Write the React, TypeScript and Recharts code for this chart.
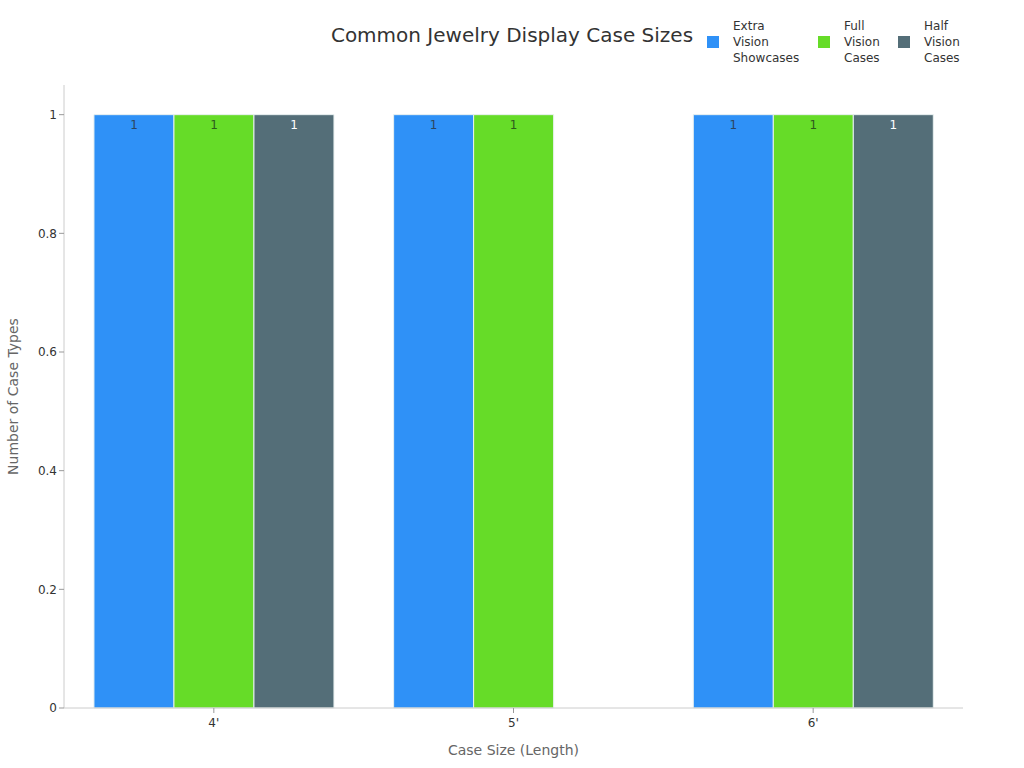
import React from "react";
import { BarChart, Bar, XAxis, YAxis, LabelList } from "recharts";

const categories = ["4'", "5'", "6'"];
const extraVision = [1, 1, 1];
const fullVision = [1, 1, 1];
const halfVision: (number | null)[] = [1, null, 1];
const yTicks = [0, 0.2, 0.4, 0.6, 0.8, 1];

const seriesNames = ["Extra Vision Showcases", "Full Vision Cases", "Half Vision Cases"];
const seriesColors = ["#2f91f7", "#66dc28", "#546e78"];

const data = categories.map((c, i) => ({
  name: c,
  extra: extraVision[i],
  full: fullVision[i],
  half: halfVision[i],
}));

const FONT = "'DejaVu Sans', sans-serif";

const legendWords = [
  ["Extra", "Vision", "Showcases"],
  ["Full", "Vision", "Cases"],
  ["Half", "Vision", "Cases"],
];
const legendLeft = [707, 818, 898];

export default function App() {
  return (
    <div style={{ position: "absolute", left: 0, top: 0, width: 1024, height: 768, background: "#fff", fontFamily: FONT }}>
      <div
        style={{
          position: "absolute",
          left: 0,
          width: 1024,
          top: 22,
          textAlign: "center",
          fontSize: 20,
          color: "#333",
          lineHeight: "26px",
        }}
      >
        Common Jewelry Display Case Sizes
      </div>
      {seriesNames.map((n, i) => (
        <div key={n} style={{ position: "absolute", left: legendLeft[i], top: 18, display: "flex", alignItems: "center" }}>
          <div style={{ width: 12, height: 12, background: seriesColors[i], marginRight: 14 }} />
          <div style={{ fontSize: 12, lineHeight: "16px", color: "#333" }}>
            {legendWords[i].map((w) => (
              <div key={w}>{w}</div>
            ))}
          </div>
        </div>
      ))}
      <BarChart
        width={1024}
        height={768}
        data={data}
        margin={{ top: 85, right: 61, bottom: 0, left: 0 }}
        barCategoryGap="10%"
        barGap={0}
        style={{ fontFamily: FONT }}
      >
        <XAxis
          dataKey="name"
          height={60}
          tick={{ fontSize: 12, fill: "#333", dy: 3 }}
          tickLine={{ stroke: "#999" }}
          axisLine={{ stroke: "#ccc" }}
          tickSize={5}
          label={{ value: "Case Size (Length)", position: "insideBottom", offset: 13, fill: "#666", fontSize: 14 }}
        />
        <YAxis
          width={64}
          domain={[0, 1.05]}
          ticks={yTicks}
          tick={{ fontSize: 12, fill: "#333" }}
          tickLine={{ stroke: "#999" }}
          axisLine={{ stroke: "#ccc" }}
          tickSize={5}
          label={{
            value: "Number of Case Types",
            angle: -90,
            position: "insideLeft",
            offset: 13,
            fill: "#666",
            fontSize: 14,
            style: { textAnchor: "middle" },
          }}
        />
        <Bar dataKey="extra" name={seriesNames[0]} fill={seriesColors[0]} stroke="#e8f0f0" strokeWidth={1} isAnimationActive={false}>
          <LabelList dataKey="extra" position="insideTop" offset={6} fill="#2c4560" fontSize={12} />
        </Bar>
        <Bar dataKey="full" name={seriesNames[1]} fill={seriesColors[1]} stroke="#e8f0f0" strokeWidth={1} isAnimationActive={false}>
          <LabelList dataKey="full" position="insideTop" offset={6} fill="#2d5a1e" fontSize={12} />
        </Bar>
        <Bar dataKey="half" name={seriesNames[2]} fill={seriesColors[2]} stroke="#e8f0f0" strokeWidth={1} isAnimationActive={false}>
          <LabelList dataKey="half" position="insideTop" offset={6} fill="#ffffff" fontSize={12} />
        </Bar>
      </BarChart>
    </div>
  );
}
